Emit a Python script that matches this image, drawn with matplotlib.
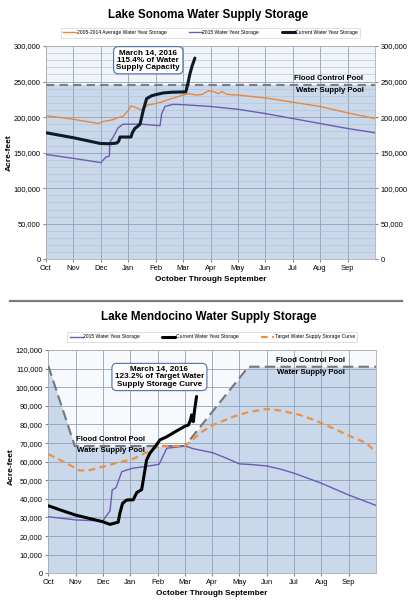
import matplotlib
matplotlib.use("Agg")
import matplotlib.pyplot as plt
from matplotlib.ticker import MultipleLocator, FuncFormatter

plt.rcParams['font.family'] = ['Liberation Sans', 'DejaVu Sans']

months = ["Oct", "Nov", "Dec", "Jan", "Feb", "Mar", "Apr", "May", "Jun", "Jul", "Aug", "Sep"]

# ---------------- Lake Sonoma (thousand acre-feet, x in months from Oct 1)
son_avg_x = [0, 1.0, 1.91, 2.1, 2.4, 2.6, 2.8, 3.0, 3.1, 3.3, 3.49, 3.7, 3.87, 4.2, 4.5, 4.99,
             5.2, 5.5, 5.7, 5.92, 6.1, 6.3, 6.41, 6.6, 7.0, 7.5, 8.0, 8.5, 9.0, 10.0, 11.0, 12.0]
son_avg_y = [202, 197, 191, 194, 196, 199, 201, 209, 216, 213, 210, 217, 218, 221, 225, 231,
             233, 231, 232, 237, 236, 233, 236, 232, 231, 229, 227, 224, 221, 215, 206, 198]
son_2015_x = [0, 1.0, 2.0, 2.19, 2.31, 2.33, 2.45, 2.63, 2.81, 3.5, 4.16, 4.22, 4.34, 4.63,
              5.0, 6.0, 7.0, 8.0, 9.0, 10.0, 11.0, 12.0]
son_2015_y = [147.5, 142, 136, 144, 145, 165, 172, 185, 190, 190, 188, 205, 215, 218,
              217.5, 215, 211, 205, 198, 191, 184, 178]
son_cur_x = [0, 1.0, 1.97, 2.3, 2.58, 2.65, 2.7, 3.1, 3.15, 3.24, 3.31, 3.43, 3.55, 3.67, 3.85,
             4.04, 4.28, 4.6, 5.1, 5.18, 5.25, 5.33, 5.43]
son_cur_y = [178, 171, 163, 162.5, 163.5, 166, 172, 172, 178, 184, 186, 190, 210, 226, 230,
             232, 234, 235, 235.5, 248, 261, 272, 283]
son_flood = 245

# ---------------- Lake Mendocino
men_flood_x = [0, 0.97, 5.0, 7.33, 12.0]
men_flood_y = [111.5, 68.4, 68.4, 111, 111]
men_target_x = [0, 0.67, 1.16, 1.53, 2.01, 2.5, 3.11, 3.6, 4.05, 5.0, 5.3, 5.55, 6.0, 6.78, 7.3,
                8.0, 8.5, 9.22, 9.8, 10.44, 11.0, 11.66, 12.0]
men_target_y = [64.1, 59.1, 55.2, 55.5, 57.3, 59.3, 61.5, 65, 68.4, 68.4, 72, 75.3, 79.5, 84.2, 86.5,
                88.3, 87.5, 85.1, 82, 77.9, 74, 69.9, 65]
men_2015_x = [0, 1.0, 2.0, 2.08, 2.26, 2.34, 2.48, 2.69, 2.87, 3.1, 3.6, 4.06, 4.34, 4.8, 5.0,
              5.3, 6.02, 6.5, 7.0, 7.4, 8.0, 8.5, 9.0, 10.0, 11.0, 12.0]
men_2015_y = [30.4, 28.7, 28.1, 30, 33.5, 44.8, 46, 54.6, 55.5, 56.5, 57.5, 58.6, 67.2, 68, 68.5,
              67, 64.8, 62, 58.8, 58.5, 57.7, 56, 53.8, 48.4, 42.1, 36.5]
men_cur_x = [0, 0.63, 1.0, 1.5, 2.0, 2.26, 2.56, 2.62, 2.72, 2.87, 3.11, 3.24, 3.42, 3.6, 3.72,
             3.91, 4.09, 4.34, 4.58, 4.82, 5.0, 5.13, 5.2, 5.25, 5.31, 5.36, 5.43]
men_cur_y = [36.3, 33.1, 31.3, 29.5, 27.7, 26.3, 27.5, 32.2, 37.6, 39.4, 39.5, 43.4, 45, 60.9, 64.5,
             68, 71.7, 73.4, 75.5, 77.5, 79, 79.7, 82, 85.1, 81.5, 88, 95]

FILL = '#c9d8ea'
LIGHT = '#f1f5fa'
GRID = '#8fa1b8'
GRID_MINOR = '#b3c2d4'
ORANGE = '#e9873b'
PURPLE = '#6c5cb4'
NAVY = '#0c1a2a'
TICKFS = 5.4
ANNFS = 5.9

def k(v):
    return [a * 1000 for a in v]

fmt = FuncFormatter(lambda v, p: f"{int(v):,}")

fig = plt.figure(figsize=(4.17, 6.12), dpi=100)
fig.patch.set_facecolor('white')

# ======================= TOP =======================
ax = fig.add_axes([0.1103, 0.5763, 0.789, 0.3485])
ax.set_facecolor(LIGHT)
ax.set_xlim(0, 12)
ax.set_ylim(0, 300000)
ax.axhspan(0, son_flood * 1000, color=FILL, zorder=0.2, lw=0)
ax.yaxis.set_major_locator(MultipleLocator(50000))
ax.yaxis.set_minor_locator(MultipleLocator(10000))
ax.yaxis.set_major_formatter(fmt)
ax.set_xticks(range(12))
ax.set_xticklabels(months)
ax.grid(True, which='minor', axis='y', color=GRID_MINOR, lw=0.45)
ax.grid(True, which='major', axis='both', color=GRID, lw=0.6)
ax.tick_params(axis='both', labelsize=TICKFS, length=2, color='#888888', pad=2)
ax.tick_params(axis='y', which='minor', length=0)
ax.tick_params(axis='y', right=True, labelright=True)
for s in ax.spines.values():
    s.set_color('#b0b0b0'); s.set_linewidth(0.6)
ax.axhline(son_flood * 1000, color='#7d7d7d', lw=1.5, dashes=(4, 2.5), zorder=3)
l1, = ax.plot(son_avg_x, k(son_avg_y), color=ORANGE, lw=1.0, zorder=4,
              label='2005-2014 Average Water Year Storage')
l2, = ax.plot(son_2015_x, k(son_2015_y), color=PURPLE, lw=1.0, zorder=4,
              label='2015 Water Year Storage')
l3, = ax.plot(son_cur_x, k(son_cur_y), color=NAVY, lw=2.2, zorder=5,
              solid_capstyle='round', label='Current Water Year Storage')
ax.text(10.32, 255000, 'Flood Control Pool', ha='center', va='center', fontsize=5.6,
        fontweight='bold', zorder=6)
ax.text(10.36, 238000, 'Water Supply Pool', ha='center', va='center', fontsize=5.6,
        fontweight='bold', zorder=6)
ax.text(3.73, 280000, 'March 14, 2016\n115.4% of Water\nSupply Capacity', ha='center',
        va='center', fontsize=ANNFS, fontweight='bold', linespacing=1.05, zorder=7,
        bbox=dict(boxstyle='round,pad=0.35,rounding_size=0.6', fc='white', ec='#4a70a8', lw=0.8))
ax.set_xlabel('October Through September', fontsize=5.9, fontweight='bold', labelpad=3)
leg = ax.legend(handles=[l1, l2, l3], loc='lower center', bbox_to_anchor=(0.5, 1.028), ncol=3,
                fontsize=3.6, frameon=True, fancybox=False, edgecolor='#c8c8c8',
                handlelength=2.6, columnspacing=4.5, borderpad=0.5, handletextpad=0.1)
leg.get_frame().set_linewidth(0.5)
fig.text(0.5, 0.9755, 'Lake Sonoma Water Supply Storage', ha='center', va='center',
         fontsize=8.4, fontweight='bold')
fig.text(0.022, 0.7505, 'Acre-feet', rotation=90, ha='center', va='center', fontsize=6,
         fontweight='bold')

# separator
fig.add_artist(plt.Line2D([10 / 417, 402 / 417], [1 - 300.7 / 612] * 2, color='#7a7a7a', lw=1.6))

# ======================= BOTTOM =======================
bx = fig.add_axes([0.1158, 0.0632, 0.7858, 0.3649])
bx.set_facecolor('#f7f9fc')
bx.set_xlim(0, 12)
bx.set_ylim(0, 120000)
bx.fill_between(men_flood_x, 0, k(men_flood_y), color=FILL, lw=0, zorder=0.2)
bx.yaxis.set_major_locator(MultipleLocator(10000))
bx.yaxis.set_major_formatter(fmt)
bx.set_xticks(range(12))
bx.set_xticklabels(months)
bx.grid(True, which='major', color=GRID, lw=0.6)
bx.tick_params(axis='both', labelsize=TICKFS, length=2, color='#888888', pad=2)
for s in bx.spines.values():
    s.set_color('#b0b0b0'); s.set_linewidth(0.6)
bx.plot(men_flood_x, k(men_flood_y), color='#777777', lw=1.5, dashes=(5, 2.5), zorder=3)
m1, = bx.plot(men_2015_x, k(men_2015_y), color=PURPLE, lw=1.0, zorder=4,
              label='2015 Water Year Storage')
m2, = bx.plot(men_cur_x, k(men_cur_y), color='black', lw=2.2, zorder=5,
              solid_capstyle='round', label='Current Water Year Storage')
m3, = bx.plot(men_target_x, k(men_target_y), color='#f0903e', lw=1.6, dashes=(3, 2), zorder=4.5,
              label='Target Water Supply Storage Curve')
bx.text(9.59, 114200, 'Flood Control Pool', ha='center', va='center', fontsize=5.6,
        fontweight='bold', zorder=6)
bx.text(9.62, 107900, 'Water Supply Pool', ha='center', va='center', fontsize=5.6,
        fontweight='bold', zorder=6)
bx.text(2.29, 72000, 'Flood Control Pool', ha='center', va='center', fontsize=5.6,
        fontweight='bold', zorder=6)
bx.text(2.31, 65800, 'Water Supply Pool', ha='center', va='center', fontsize=5.6,
        fontweight='bold', zorder=6)
bx.text(4.07, 105500, 'March 14, 2016\n123.2% of Target Water\nSupply Storage Curve',
        ha='center', va='center', fontsize=ANNFS, fontweight='bold', linespacing=1.05, zorder=7,
        bbox=dict(boxstyle='round,pad=0.35,rounding_size=0.6', fc='white', ec='#4a70a8', lw=0.8))
bx.set_xlabel('October Through September', fontsize=5.9, fontweight='bold', labelpad=3)
leg2 = bx.legend(handles=[m1, m2, m3], loc='lower center', bbox_to_anchor=(0.5, 1.025), ncol=3,
                 fontsize=3.6, frameon=True, fancybox=False, edgecolor='#c8c8c8',
                 handlelength=2.6, columnspacing=4.5, borderpad=0.5, handletextpad=0.1)
leg2.get_frame().set_linewidth(0.5)
fig.text(0.5, 0.4825, 'Lake Mendocino Water Supply Storage', ha='center', va='center',
         fontsize=8.4, fontweight='bold')
fig.text(0.028, 0.237, 'Acre-feet', rotation=90, ha='center', va='center', fontsize=6,
         fontweight='bold')

fig.savefig('out.png', dpi=100)
